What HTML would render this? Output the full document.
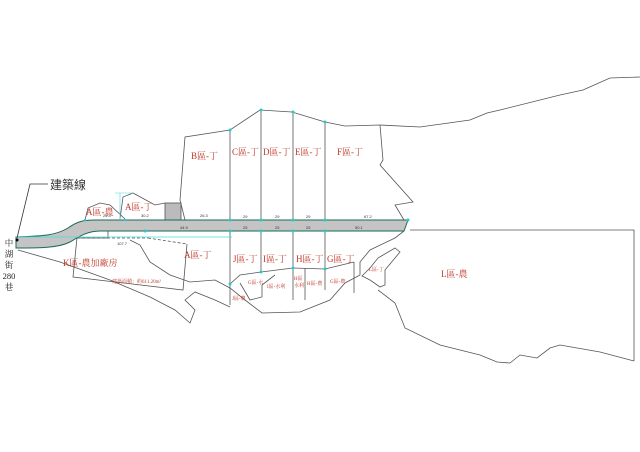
<!DOCTYPE html>
<html><head><meta charset="utf-8"><style>
html,body{margin:0;padding:0;background:#fff;}
svg{display:block;}
.r{fill:#c0392b;font-family:"Liberation Serif","Noto Serif CJK SC",serif;font-size:9px;}
.s{fill:#333;font-family:"Liberation Sans",sans-serif;font-size:4px;}
.t{fill:#c0392b;font-family:"Liberation Serif","Noto Serif CJK SC",serif;font-size:5px;}
</style></head><body>
<svg width="640" height="452" viewBox="0 0 640 452" xmlns="http://www.w3.org/2000/svg">
<g fill="none" stroke="#555" stroke-width="0.8">
<polyline points="185,220 180,200 185,137 230,130 260,110 292,112 325,122 345,126 380,125 420,127 470,120 487,113 500,110 560,95 583,90 610,78 640,77"/>
<polyline points="380,125 383,160 380,165 413,202 395,205 404,220"/>
<polyline points="378,290 395,303 405,328 440,345 480,355 497,362 510,363 520,355 537,358 550,348 560,345 600,352 634,361"/>
<polyline points="410,230 634,230 634,361"/>
<polyline points="404,231 395,238 370,250 360,262 360,275 345,283 330,300 300,312 262,313 245,300 230,288 215,280 190,282 170,275 150,262 140,245 130,240"/>
<polyline points="18,250 60,262 110,280 150,297 175,310 190,323 195,310 185,300 195,292 215,300 230,307"/>
<polyline points="77,238 73,277 183,290 187,244"/>
<polyline points="77,238 148,238" stroke-dasharray="3,2"/>
<polyline points="148,238 187,244" stroke-dasharray="3,2"/>
<polyline points="78,231 78,238 108,238 108,231"/>
<line x1="230" y1="130" x2="230" y2="220"/><line x1="261" y1="110" x2="261" y2="220"/>
<line x1="293" y1="112" x2="293" y2="220"/><line x1="325" y1="122" x2="325" y2="220"/>
<line x1="230" y1="231" x2="230" y2="305"/><line x1="261" y1="231" x2="261" y2="272"/>
<line x1="293" y1="231" x2="293" y2="300"/><line x1="325" y1="231" x2="325" y2="290"/>
<line x1="354" y1="262" x2="354" y2="293"/>
<polyline points="230,284 240,275 261,272 293,268 325,269 354,262"/>
<polyline points="240,283 250,300 262,297 262,285 275,275"/>
<polyline points="305,268 305,300"/>
<polyline points="370,268 378,258 395,248 400,252 385,270 385,285 380,287 370,280 362,276 370,268"/>
<polyline points="85,220 88,208 100,203 110,205 125,219"/>
<polyline points="120,219 123,197 133,193 155,205 165,203"/>
</g>
<rect x="165" y="203" width="16" height="17" fill="#bbb" stroke="#555" stroke-width="0.8"/>
<path d="M16,237 C40,236 55,236 68,228 C78,221 84,220 95,220 L408,220 L404,231 L100,231 C88,231 80,236 70,242 C58,248 40,248 16,248 Z" fill="#c4c4c4" stroke="#1a6a5a" stroke-width="1"/>
<line x1="16" y1="237" x2="232" y2="237" stroke="#4dd" stroke-width="0.7"/>
<line x1="120" y1="193" x2="120" y2="219" stroke="#4dd" stroke-width="0.6"/>
<line x1="115" y1="193" x2="134" y2="193" stroke="#4dd" stroke-width="0.6"/>
<g fill="#2cc">
<circle cx="230" cy="220" r="1.5"/><circle cx="261" cy="220" r="1.5"/><circle cx="293" cy="220" r="1.5"/><circle cx="325" cy="220" r="1.5"/><circle cx="408" cy="220" r="1.5"/>
<circle cx="230" cy="231" r="1.5"/><circle cx="261" cy="231" r="1.5"/><circle cx="293" cy="231" r="1.5"/><circle cx="325" cy="231" r="1.5"/>
<circle cx="230" cy="130" r="1.5"/><circle cx="261" cy="110" r="1.5"/><circle cx="293" cy="112" r="1.5"/><circle cx="325" cy="122" r="1.5"/>
<circle cx="230" cy="284" r="1.5"/><circle cx="261" cy="272" r="1.5"/><circle cx="293" cy="268" r="1.5"/><circle cx="325" cy="269" r="1.5"/>
<circle cx="145" cy="231" r="1.5"/><circle cx="85" cy="220" r="1.2"/><circle cx="125" cy="220" r="1.2"/>
</g>
<polyline points="48,184 30,184 17,238" fill="none" stroke="#333" stroke-width="0.8"/>
<circle cx="17" cy="240" r="1.5" fill="#000"/>
<text x="50" y="189" font-family="Liberation Sans,Noto Sans CJK TC,sans-serif" font-size="12" fill="#333">建築線</text>
<g font-family="Liberation Serif,Noto Serif CJK TC,serif" font-size="8.5" fill="#222" text-anchor="middle">
<text x="9" y="246">中</text><text x="9" y="257">湖</text><text x="9" y="268">街</text><text x="9" y="279">280</text><text x="9" y="290">巷</text>
</g>
<text class="r" x="191" y="159">B區-丁</text>
<text class="r" x="232" y="155">C區-丁</text>
<text class="r" x="263" y="155">D區-丁</text>
<text class="r" x="295" y="155">E區-丁</text>
<text class="r" x="337" y="155">F區-丁</text>
<text class="r" x="184" y="258">A區-丁</text>
<text class="r" x="233" y="262">J區-丁</text>
<text class="r" x="263" y="262">I區-丁</text>
<text class="r" x="296" y="262">H區-丁</text>
<text class="r" x="327" y="262">G區-丁</text>
<text class="r" x="63" y="266">K區-農加廠房</text>
<text class="r" x="86" y="215">A區-農</text>
<text class="r" x="125" y="210">A區-丁</text>
<text class="r" x="441" y="277">L區-農</text>
<text class="t" x="369" y="271">L區-丁</text>
<text class="t" x="232" y="300">J區-農</text>
<text class="t" x="248" y="284">G區-水</text>
<text class="t" x="267" y="288">I區-水利</text>
<text class="t" x="294" y="280">H區</text>
<text class="t" x="294" y="287">水利</text>
<text class="t" x="307" y="285">H區-農</text>
<text class="t" x="330" y="283">G區-農</text>
<text class="t" x="112" y="283" font-size="3.5">建築面積：約611.20m²</text>
<g class="s">
<text x="103" y="217">24.4</text><text x="141" y="217">30.2</text><text x="200" y="217">26.3</text>
<text x="243" y="218">29</text><text x="275" y="218">29</text><text x="306" y="218">29</text><text x="364" y="218">67.2</text>
<text x="180" y="229">44.9</text><text x="243" y="229">25</text><text x="275" y="229">25</text><text x="306" y="229">25</text><text x="355" y="229">50.1</text>
<text x="117" y="245">107.7</text>
</g>
</svg>
</body></html>
